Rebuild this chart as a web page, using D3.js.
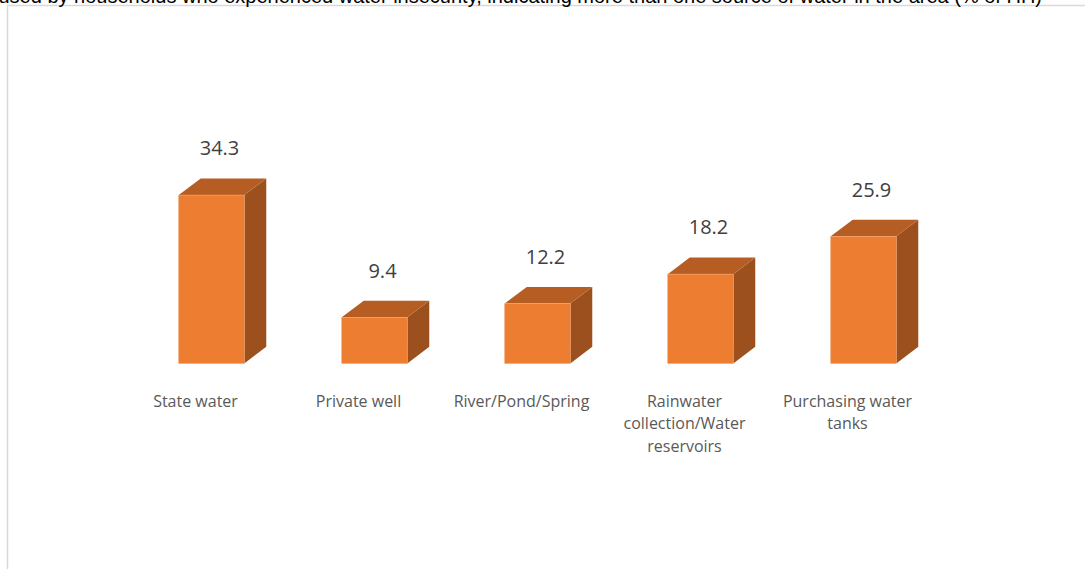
<!DOCTYPE html>
<html>
<head>
<meta charset="utf-8">
<script src="https://cdn.jsdelivr.net/npm/d3@7"></script>
<style>
html,body{margin:0;padding:0;background:#fff;overflow:hidden;}
svg{display:block;}
</style>
</head>
<body>
<svg id="chart" width="1085" height="569"></svg>
<script>
const categories = ["State water", "Private well", "River/Pond/Spring", "Rainwater collection/Water reservoirs", "Purchasing water tanks"];
const values = [34.3, 9.4, 12.2, 18.2, 25.9];
const titleText = "Main sources of water used by households who experienced water insecurity, indicating more than one source of water in the area (% of HH)";

const svg = d3.select("#chart");
const W = 1085, H = 569;

// chart frame (partially visible)
svg.append("rect").attr("x", 7.5).attr("y", 5.5).attr("width", W + 20).attr("height", H + 20)
  .attr("fill", "#fff").attr("stroke", "#d9d9d9").attr("stroke-width", 1.5);

// clipped title above the frame (cut off in the reference as well)
svg.append("text").attr("x", 1042).attr("y", 2.5).attr("text-anchor", "end")
  .attr("font-family", "Liberation Sans, Arial, sans-serif").attr("font-size", 20)
  .attr("fill", "#000").text(titleText);

const x = d3.scaleBand().domain(categories).range([130, 945]).paddingInner(0.598).paddingOuter(0.299);
const y = d3.scaleLinear().domain([0, 40]).range([363.5, 167.1]);
const dx = 22, dy = 16.7;

const g = svg.append("g");
const bars = g.selectAll("g.bar").data(categories.map((c, i) => ({c, v: values[i]}))).join("g").attr("class", "bar");

bars.append("path").attr("fill", "#9b501d").attr("d", d => {
  const x1 = x(d.c) + x.bandwidth(), yt = y(d.v), yb = y(0);
  return `M${x1},${yt}L${x1+dx},${yt-dy}L${x1+dx},${yb-dy}L${x1},${yb}Z`;
});
bars.append("path").attr("fill", "#b55d22").attr("d", d => {
  const x0 = x(d.c), x1 = x0 + x.bandwidth(), yt = y(d.v);
  return `M${x0},${yt}L${x0+dx},${yt-dy}L${x1+dx},${yt-dy}L${x1},${yt}Z`;
});
bars.append("rect").attr("fill", "#ed7d31").attr("stroke", "#f4a36c").attr("stroke-width", 0.6)
  .attr("x", d => x(d.c)).attr("y", d => y(d.v))
  .attr("width", x.bandwidth()).attr("height", d => y(0) - y(d.v));

// value labels
bars.append("text").attr("text-anchor", "middle")
  .attr("font-family", "Open Sans, sans-serif").attr("font-size", 20).attr("fill", "#404040")
  .attr("x", d => x(d.c) + x.bandwidth() / 2 + 8)
  .attr("y", d => y(d.v) - dy - 23)
  .text(d => d.v.toFixed(1));

// category labels with word wrap
const maxW = 152;
bars.each(function(d) {
  const t = d3.select(this).append("text").attr("text-anchor", "middle")
    .attr("font-family", "Open Sans, sans-serif").attr("font-size", 16).attr("fill", "#595959");
  const cx = x(d.c) + x.bandwidth() / 2 - 16;
  const words = d.c.split(" ");
  let line = [], lineNo = 0;
  let ts = t.append("tspan").attr("x", cx).attr("y", 406.5);
  for (const w of words) {
    line.push(w);
    ts.text(line.join(" "));
    if (ts.node().getComputedTextLength() > maxW && line.length > 1) {
      line.pop();
      ts.text(line.join(" "));
      line = [w];
      lineNo++;
      ts = t.append("tspan").attr("x", cx).attr("y", 406.5 + lineNo * 22.5).text(w);
    }
  }
});
</script>
</body>
</html>
